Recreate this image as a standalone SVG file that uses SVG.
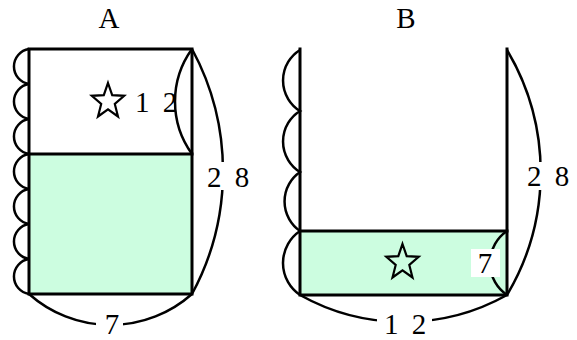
<svg xmlns="http://www.w3.org/2000/svg" xmlns:xlink="http://www.w3.org/1999/xlink" width="577" height="340" viewBox="0 0 577 340">
<style>
.edge{fill:none;stroke:#000;stroke-width:3;stroke-linejoin:miter;stroke-linecap:square}
.arc{fill:none;stroke:#000;stroke-width:2.5}
.fill{fill:#ccfde0;stroke:none}
.lbl{font-family:"Liberation Serif","DejaVu Serif",serif;font-size:29px;fill:#000;text-anchor:middle}
.num{word-spacing:6px}
.mask{fill:#fff;stroke:none}
.star{fill:none;stroke:#000;stroke-width:2.2;stroke-linejoin:miter}
</style>
<defs>
<path id="star" d="M0,-18.5 L4.2,-6.3 L16.2,-5.7 L6.8,2.4 L10,15 L0,7.8 L-10,15 L-6.8,2.4 L-16.2,-5.7 L-4.2,-6.3 Z"/>
</defs>

<g id="diagramA">
<rect class="fill" x="29" y="154" width="163" height="140"/>
<g id="connectorsA">
<path class="arc" d="M29,49 A17.7,17.7 0 0 0 29,84 A17.7,17.7 0 0 0 29,119 A17.7,17.7 0 0 0 29,154 A17.7,17.7 0 0 0 29,189 A17.7,17.7 0 0 0 29,224 A17.7,17.7 0 0 0 29,259 A17.7,17.7 0 0 0 29,294"/>
<path class="arc" d="M192,49 A89.6,89.6 0 0 0 192,154"/>
<path class="arc" d="M192,49 A257.5,257.5 0 0 1 192,294"/>
<path class="arc" d="M29,294 A122.6,122.6 0 0 0 192,294"/>
</g>
<rect class="edge" x="29" y="49" width="163" height="245"/>
<line class="edge" x1="29" y1="154" x2="192" y2="154"/>
<use xlink:href="#star" class="star" transform="translate(108,101.5)"/>
<text class="lbl" x="109" y="28">A</text>
<text class="lbl num" x="156" y="112">1 2</text>
<rect class="mask" x="203" y="162" width="48" height="28"/>
<text class="lbl num" x="228" y="187">2 8</text>
<rect class="mask" x="96" y="314" width="27" height="26"/>
<text class="lbl" x="112" y="334">7</text>
</g>

<g id="diagramB">
<rect class="fill" x="300" y="231" width="207" height="64"/>
<g id="connectorsB">
<path class="arc" d="M300,50 A35.9,35.9 0 0 0 300,111 A35.9,35.9 0 0 0 300,172 A35.9,35.9 0 0 0 300,231 A38.6,38.6 0 0 0 300,295"/>
<path class="arc" d="M507,50 A239.5,239.5 0 0 1 507,295"/>
<path class="arc" d="M507,231 A38.6,38.6 0 0 0 507,295"/>
<path class="arc" d="M300,295 A211.9,211.9 0 0 0 507,295"/>
</g>
<path class="edge" d="M300,49 L300,295 L507,295 L507,49"/>
<line class="edge" x1="300" y1="231" x2="507" y2="231"/>
<use xlink:href="#star" class="star" transform="translate(402.5,262.5)"/>
<text class="lbl" x="406" y="28">B</text>
<rect class="mask" x="524" y="162" width="48" height="28"/>
<text class="lbl num" x="548" y="186">2 8</text>
<rect class="mask" x="377" y="312" width="55" height="28"/>
<text class="lbl num" x="405" y="334">1 2</text>
<rect class="mask" x="471" y="249" width="29" height="28"/>
<text class="lbl" x="485" y="273">7</text>
</g>
</svg>
